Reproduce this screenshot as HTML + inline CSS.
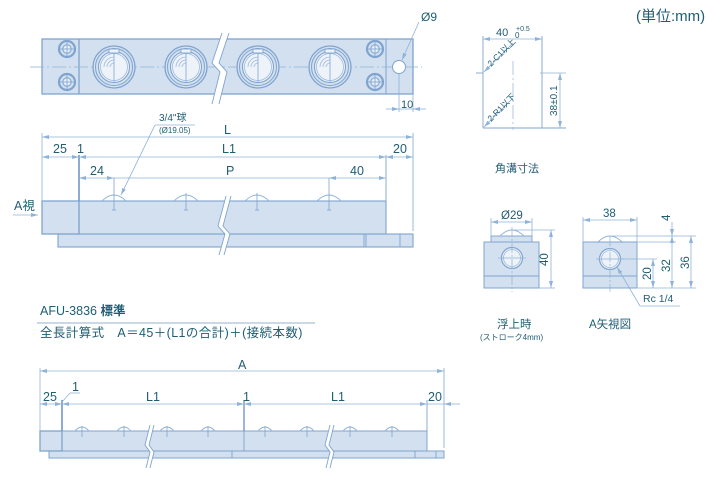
<!DOCTYPE html>
<html><head><meta charset="utf-8">
<style>
html,body{margin:0;padding:0;background:#fff;}
svg{display:block;}
text{font-family:"Liberation Sans","Noto Sans CJK JP",sans-serif;fill:#1f5d73;}
</style></head>
<body>
<svg width="728" height="498" viewBox="0 0 728 498" xmlns="http://www.w3.org/2000/svg">
<defs>
<marker id="a" markerWidth="8" markerHeight="6" refX="7" refY="3" orient="auto" markerUnits="userSpaceOnUse">
<path d="M0,1 L7,3 L0,5 z" fill="#8fb2d8"/></marker>
<marker id="b" markerWidth="8" markerHeight="6" refX="1" refY="3" orient="auto" markerUnits="userSpaceOnUse">
<path d="M8,1 L1,3 L8,5 z" fill="#8fb2d8"/></marker>
<g id="bolt"><circle r="8" fill="#d3e0ef" stroke="#7fa4cf" stroke-width="2.2"/><circle r="4.2" fill="#e6eef7" stroke="#7fa4cf" stroke-width="1"/><line x1="0" y1="-7" x2="0" y2="7" stroke="#7fa4cf" stroke-width="0.8"/><line x1="-7" y1="0" x2="7" y2="0" stroke="#7fa4cf" stroke-width="0.8"/></g>
<g id="unit"><circle r="21" fill="#d3e0ef" stroke="#7fa4cf" stroke-width="1.3"/><circle r="18.5" fill="none" stroke="#7fa4cf" stroke-width="1"/><circle r="15.5" fill="#eef3f9" stroke="#7fa4cf" stroke-width="1.1"/><circle r="13.5" fill="none" stroke="#9dbbdc" stroke-width="0.8"/><path d="M-10,0 A10,10 0 0 1 0,-10 M-7,0 A7,7 0 0 1 0,-7 M-4,0 A4,4 0 0 1 0,-4" fill="none" stroke="#9dbbdc" stroke-width="0.8"/><line x1="0" y1="-15" x2="0" y2="15" stroke="#7fa4cf" stroke-width="0.8"/><rect x="-5" y="-18" width="10" height="4" fill="#eef3f9" stroke="#7fa4cf" stroke-width="0.9"/></g>
<g id="ball"><path d="M-12,0 Q0,-12 12,0" fill="none" stroke="#8fb2d8" stroke-width="0.9"/><line x1="0" y1="-8" x2="0" y2="9" stroke="#7fa4cf" stroke-width="0.8"/><line x1="-2" y1="9" x2="2" y2="9" stroke="#7fa4cf" stroke-width="0.8"/></g>
<g id="sball"><path d="M-7,0 Q0,-8 7,0" fill="none" stroke="#8fb2d8" stroke-width="0.9"/><line x1="0" y1="-5" x2="0" y2="6" stroke="#7fa4cf" stroke-width="0.8"/></g>
</defs>

<!-- ===== PLAN VIEW ===== -->
<rect x="42" y="39" width="371" height="55" fill="#d3e0ef" stroke="#7fa4cf" stroke-width="1.3"/>
<line x1="79" y1="39" x2="79" y2="94" stroke="#7fa4cf" stroke-width="1.3"/>
<line x1="386" y1="39" x2="386" y2="94" stroke="#7fa4cf" stroke-width="1"/>
<line x1="30" y1="67" x2="422" y2="67" stroke="#8fb2d8" stroke-width="0.8" stroke-dasharray="14,3,2,3"/>
<use href="#bolt" x="67" y="49"/><use href="#bolt" x="67" y="82"/>
<use href="#bolt" x="375" y="49"/><use href="#bolt" x="375" y="82"/>
<use href="#unit" x="114" y="67"/><use href="#unit" x="186" y="67"/>
<use href="#unit" x="258" y="67"/><use href="#unit" x="330" y="67"/>
<path d="M222,33 L212,63 L220,72 L212,104 L219,104 L227,72 L219,63 L229,33 z" fill="#fff"/>
<path d="M222,33 L212,63 L220,72 L212,104 M229,33 L219,63 L227,72 L219,104" fill="none" stroke="#7fa4cf" stroke-width="0.9"/>
<circle cx="399" cy="67" r="6.5" fill="#fff" stroke="#7fa4cf" stroke-width="1"/>
<line x1="399" y1="73" x2="399" y2="112" stroke="#8fb2d8" stroke-width="0.8"/>
<line x1="413" y1="94" x2="413" y2="112" stroke="#8fb2d8" stroke-width="0.8"/>
<line x1="386" y1="109" x2="399" y2="109" stroke="#8fb2d8" stroke-width="0.8" marker-end="url(#a)"/>
<line x1="426" y1="109" x2="413" y2="109" stroke="#8fb2d8" stroke-width="0.8" marker-end="url(#a)"/>
<line x1="399" y1="109" x2="413" y2="109" stroke="#8fb2d8" stroke-width="0.8"/>
<text x="401" y="108" font-size="11">10</text>
<line x1="419" y1="22" x2="402" y2="60" stroke="#8fb2d8" stroke-width="0.8" marker-end="url(#a)"/>
<text x="421" y="21" font-size="12">Ø9</text>

<!-- ===== SIDE VIEW ===== -->
<rect x="58" y="234" width="355" height="13" fill="#d3e0ef" stroke="#7fa4cf" stroke-width="1.1"/>
<line x1="364" y1="234" x2="364" y2="247" stroke="#7fa4cf" stroke-width="0.9"/>
<line x1="366" y1="234" x2="366" y2="247" stroke="#7fa4cf" stroke-width="0.9"/>
<line x1="400" y1="234" x2="400" y2="247" stroke="#7fa4cf" stroke-width="0.9"/>
<rect x="79" y="201" width="307" height="33" fill="#d3e0ef" stroke="#7fa4cf" stroke-width="1.1"/>
<rect x="42" y="201" width="37" height="33" fill="#d3e0ef" stroke="#7fa4cf" stroke-width="1.3"/>
<use href="#ball" x="114" y="201"/><use href="#ball" x="186" y="201"/>
<use href="#ball" x="257" y="201"/><use href="#ball" x="329" y="201"/>
<path d="M226,196 L218,226 L225,234 L219,255 L224,255 L230,234 L223,226 L231,196 z" fill="#fff"/>
<path d="M226,196 L218,226 L225,234 L219,255 M231,196 L223,226 L230,234 L224,255" fill="none" stroke="#7fa4cf" stroke-width="0.9"/>
<line x1="42" y1="133" x2="42" y2="201" stroke="#8fb2d8" stroke-width="0.8"/>
<line x1="79" y1="155" x2="79" y2="201" stroke="#6f98c8" stroke-width="1.6"/>
<line x1="386" y1="155" x2="386" y2="201" stroke="#7fa4cf" stroke-width="0.9"/>
<line x1="413" y1="133" x2="413" y2="231" stroke="#8fb2d8" stroke-width="0.9"/>
<line x1="114" y1="178" x2="114" y2="193" stroke="#7fa4cf" stroke-width="0.8"/>
<line x1="329" y1="178" x2="329" y2="193" stroke="#7fa4cf" stroke-width="0.8"/>
<line x1="42" y1="137" x2="413" y2="137" stroke="#8fb2d8" stroke-width="0.8" marker-start="url(#b)" marker-end="url(#a)"/>
<text x="224" y="134" font-size="12.5">L</text>
<line x1="42" y1="157" x2="79" y2="157" stroke="#8fb2d8" stroke-width="0.8" marker-start="url(#b)" marker-end="url(#a)"/>
<line x1="79" y1="157" x2="386" y2="157" stroke="#8fb2d8" stroke-width="0.8" marker-start="url(#b)" marker-end="url(#a)"/>
<line x1="386" y1="157" x2="413" y2="157" stroke="#8fb2d8" stroke-width="0.8" marker-start="url(#b)" marker-end="url(#a)"/>
<text x="53" y="153" font-size="12.5">25</text>
<text x="77" y="153" font-size="12.5">1</text>
<text x="222" y="153" font-size="12.5">L1</text>
<text x="393" y="153" font-size="12.5">20</text>
<line x1="79" y1="178" x2="114" y2="178" stroke="#8fb2d8" stroke-width="0.8" marker-start="url(#b)" marker-end="url(#a)"/>
<line x1="114" y1="178" x2="329" y2="178" stroke="#8fb2d8" stroke-width="0.8"/>
<line x1="329" y1="178" x2="386" y2="178" stroke="#8fb2d8" stroke-width="0.8" marker-start="url(#b)" marker-end="url(#a)"/>
<text x="90" y="175" font-size="12.5">24</text>
<text x="226" y="175" font-size="12.5">P</text>
<text x="350" y="175" font-size="12.5">40</text>
<line x1="155" y1="125" x2="195" y2="125" stroke="#8fb2d8" stroke-width="0.8"/>
<line x1="155" y1="125" x2="121" y2="195" stroke="#8fb2d8" stroke-width="0.8" marker-end="url(#a)"/>
<text x="159" y="121" font-size="10">3/4"球</text>
<text x="159" y="133" font-size="8">(Ø19.05)</text>
<text x="14" y="210" font-size="12.5">A視</text>
<line x1="13" y1="215" x2="38" y2="215" stroke="#8fb2d8" stroke-width="0.8" marker-end="url(#a)"/>

<!-- ===== CORNER GROOVE ===== -->
<line x1="483" y1="39" x2="542" y2="39" stroke="#8fb2d8" stroke-width="0.8" marker-start="url(#b)" marker-end="url(#a)"/>
<text x="496" y="36" font-size="11">40</text>
<text x="516" y="31" font-size="7">+0.5</text>
<text x="515" y="38" font-size="8">0</text>
<line x1="483" y1="36" x2="483" y2="128" stroke="#7fa4cf" stroke-width="0.9"/>
<line x1="542" y1="36" x2="542" y2="128" stroke="#7fa4cf" stroke-width="0.9"/>
<line x1="476" y1="73" x2="483" y2="73" stroke="#7fa4cf" stroke-width="0.9"/>
<line x1="540" y1="73" x2="566" y2="73" stroke="#8fb2d8" stroke-width="0.8"/>
<line x1="483" y1="128" x2="566" y2="128" stroke="#7fa4cf" stroke-width="0.9"/>
<line x1="513" y1="61" x2="513" y2="130" stroke="#9dbbdc" stroke-width="0.8" stroke-dasharray="14,3,2,3"/>
<line x1="560" y1="73" x2="560" y2="128" stroke="#8fb2d8" stroke-width="0.8" marker-start="url(#b)" marker-end="url(#a)"/>
<text transform="translate(557,116) rotate(-90)" font-size="10">38±0.1</text>
<line x1="513" y1="43" x2="484" y2="72" stroke="#8fb2d8" stroke-width="0.8" marker-end="url(#a)"/>
<line x1="513" y1="98" x2="484" y2="127" stroke="#8fb2d8" stroke-width="0.8" marker-end="url(#a)"/>
<text transform="translate(491,67) rotate(-45)" font-size="8.5">2-C1以上</text>
<text transform="translate(491,122) rotate(-45)" font-size="8.5">2-R1以下</text>
<text x="495" y="172" font-size="11">角溝寸法</text>

<text x="636" y="21" font-size="15">(単位:mm)</text>

<!-- ===== FLOAT VIEW ===== -->
<rect x="491" y="236" width="41" height="6" fill="#d3e0ef" stroke="#7fa4cf" stroke-width="0.9"/>
<path d="M500,236 Q512,224 524,236" fill="none" stroke="#8fb2d8" stroke-width="0.9"/>
<rect x="484" y="242" width="55" height="46" fill="#d3e0ef" stroke="#7fa4cf" stroke-width="1"/>
<line x1="484" y1="276" x2="539" y2="276" stroke="#7fa4cf" stroke-width="1"/>
<circle cx="512" cy="258" r="10.5" fill="#eef3f9" stroke="#7fa4cf" stroke-width="1.2"/>
<circle cx="512" cy="258" r="8.5" fill="none" stroke="#9dbbdc" stroke-width="0.8"/>
<line x1="512" y1="227" x2="512" y2="292" stroke="#8fb2d8" stroke-width="0.7" stroke-dasharray="10,2,2,2"/>
<line x1="498" y1="258" x2="526" y2="258" stroke="#8fb2d8" stroke-width="0.7"/>
<line x1="491" y1="218" x2="491" y2="236" stroke="#8fb2d8" stroke-width="0.8"/>
<line x1="532" y1="218" x2="532" y2="236" stroke="#8fb2d8" stroke-width="0.8"/>
<line x1="491" y1="222" x2="532" y2="222" stroke="#8fb2d8" stroke-width="0.8" marker-start="url(#b)" marker-end="url(#a)"/>
<text x="501" y="219" font-size="11.5">Ø29</text>
<line x1="514" y1="230" x2="555" y2="230" stroke="#8fb2d8" stroke-width="0.8"/>
<line x1="539" y1="288" x2="555" y2="288" stroke="#8fb2d8" stroke-width="0.8"/>
<line x1="551" y1="230" x2="551" y2="288" stroke="#8fb2d8" stroke-width="0.8" marker-start="url(#b)" marker-end="url(#a)"/>
<text transform="translate(548,266) rotate(-90)" font-size="11.5">40</text>
<text x="497" y="328" font-size="11.5">浮上時</text>
<text x="480" y="340" font-size="8">(ストローク4mm)</text>

<!-- ===== A VIEW ===== -->
<path d="M598,242 Q610,230 622,242" fill="none" stroke="#8fb2d8" stroke-width="0.9"/>
<rect x="583" y="242" width="54" height="46" fill="#d3e0ef" stroke="#7fa4cf" stroke-width="1"/>
<line x1="583" y1="276" x2="637" y2="276" stroke="#7fa4cf" stroke-width="1"/>
<circle cx="610" cy="259" r="10.5" fill="#eef3f9" stroke="#7fa4cf" stroke-width="1.2"/>
<circle cx="610" cy="259" r="8.5" fill="none" stroke="#9dbbdc" stroke-width="0.8"/>
<line x1="610" y1="236" x2="610" y2="292" stroke="#8fb2d8" stroke-width="0.7" stroke-dasharray="10,2,2,2"/>
<line x1="596" y1="259" x2="624" y2="259" stroke="#8fb2d8" stroke-width="0.7"/>
<line x1="583" y1="217" x2="583" y2="242" stroke="#8fb2d8" stroke-width="0.8"/>
<line x1="637" y1="217" x2="637" y2="242" stroke="#8fb2d8" stroke-width="0.8"/>
<line x1="583" y1="220" x2="637" y2="220" stroke="#8fb2d8" stroke-width="0.8" marker-start="url(#b)" marker-end="url(#a)"/>
<text x="603" y="217" font-size="11.5">38</text>
<line x1="612" y1="236" x2="696" y2="236" stroke="#8fb2d8" stroke-width="0.8"/>
<line x1="637" y1="242" x2="676" y2="242" stroke="#8fb2d8" stroke-width="0.8"/>
<line x1="622" y1="259" x2="657" y2="259" stroke="#8fb2d8" stroke-width="0.8"/>
<line x1="637" y1="288" x2="696" y2="288" stroke="#8fb2d8" stroke-width="0.8"/>
<line x1="672" y1="222" x2="672" y2="236" stroke="#8fb2d8" stroke-width="0.8" marker-end="url(#a)"/>
<line x1="672" y1="236" x2="672" y2="288" stroke="#8fb2d8" stroke-width="0.8" marker-start="url(#b)" marker-end="url(#a)"/>
<text transform="translate(670,221) rotate(-90)" font-size="11.5">4</text>
<line x1="653" y1="259" x2="653" y2="288" stroke="#8fb2d8" stroke-width="0.8" marker-start="url(#b)" marker-end="url(#a)"/>
<text transform="translate(651,280) rotate(-90)" font-size="11.5">20</text>
<text transform="translate(670,272) rotate(-90)" font-size="11.5">32</text>
<line x1="691" y1="236" x2="691" y2="288" stroke="#8fb2d8" stroke-width="0.8" marker-start="url(#b)" marker-end="url(#a)"/>
<text transform="translate(689,269) rotate(-90)" font-size="11.5">36</text>
<line x1="640" y1="306" x2="617" y2="267" stroke="#8fb2d8" stroke-width="0.8" marker-end="url(#a)"/>
<line x1="640" y1="306" x2="680" y2="306" stroke="#8fb2d8" stroke-width="0.8"/>
<text x="643" y="302" font-size="10.5">Rc 1/4</text>
<text x="589" y="328" font-size="11.5">A矢視図</text>

<!-- ===== FORMULA ===== -->
<text x="40" y="315" font-size="12.5">AFU-3836 <tspan font-weight="bold">標準</tspan></text>
<line x1="37" y1="323" x2="315" y2="323" stroke="#b9cbe0" stroke-width="1.5"/>
<text x="40" y="337" font-size="12.5" letter-spacing="0.4">全長計算式　A＝45＋(L1の合計)＋(接続本数)</text>

<!-- ===== BOTTOM VIEW ===== -->
<rect x="49" y="451" width="395" height="7" fill="#d3e0ef" stroke="#7fa4cf" stroke-width="1"/>
<line x1="232" y1="451" x2="232" y2="458" stroke="#7fa4cf" stroke-width="0.9"/>
<line x1="415" y1="451" x2="415" y2="458" stroke="#7fa4cf" stroke-width="0.9"/>
<line x1="436" y1="451" x2="436" y2="458" stroke="#7fa4cf" stroke-width="0.9"/>
<rect x="62" y="431" width="365" height="20" fill="#d3e0ef" stroke="#7fa4cf" stroke-width="1"/>
<rect x="40" y="431" width="22" height="20" fill="#d3e0ef" stroke="#7fa4cf" stroke-width="1.3"/>
<line x1="244" y1="431" x2="244" y2="451" stroke="#7fa4cf" stroke-width="0.9"/>
<use href="#sball" x="82" y="431"/><use href="#sball" x="124" y="431"/>
<use href="#sball" x="167" y="431"/><use href="#sball" x="208" y="431"/>
<use href="#sball" x="265" y="431"/><use href="#sball" x="307" y="431"/>
<use href="#sball" x="350" y="431"/><use href="#sball" x="392" y="431"/>
<path d="M150,425 L145,445 L150,452 L146,468 L150,468 L154,452 L149,445 L154,425 z" fill="#fff"/>
<path d="M150,425 L145,445 L150,452 L146,468 M154,425 L149,445 L154,452 L150,468" fill="none" stroke="#7fa4cf" stroke-width="0.9"/>
<path d="M330,425 L325,445 L330,452 L326,468 L330,468 L334,452 L329,445 L334,425 z" fill="#fff"/>
<path d="M330,425 L325,445 L330,452 L326,468 M334,425 L329,445 L334,452 L330,468" fill="none" stroke="#7fa4cf" stroke-width="0.9"/>
<line x1="40" y1="368" x2="40" y2="431" stroke="#8fb2d8" stroke-width="0.8"/>
<line x1="62" y1="400" x2="62" y2="431" stroke="#6f98c8" stroke-width="1.6"/>
<line x1="244" y1="400" x2="244" y2="431" stroke="#6f98c8" stroke-width="1.4"/>
<line x1="427" y1="400" x2="427" y2="431" stroke="#7fa4cf" stroke-width="0.9"/>
<line x1="444" y1="368" x2="444" y2="448" stroke="#8fb2d8" stroke-width="0.9"/>
<line x1="40" y1="371" x2="444" y2="371" stroke="#8fb2d8" stroke-width="0.8" marker-start="url(#b)" marker-end="url(#a)"/>
<text x="238" y="369" font-size="12.5">A</text>
<line x1="40" y1="404" x2="62" y2="404" stroke="#8fb2d8" stroke-width="0.8" marker-start="url(#b)" marker-end="url(#a)"/>
<line x1="62" y1="404" x2="244" y2="404" stroke="#8fb2d8" stroke-width="0.8" marker-start="url(#b)" marker-end="url(#a)"/>
<line x1="244" y1="404" x2="427" y2="404" stroke="#8fb2d8" stroke-width="0.8" marker-start="url(#b)" marker-end="url(#a)"/>
<line x1="427" y1="404" x2="444" y2="404" stroke="#8fb2d8" stroke-width="0.8"/>
<line x1="460" y1="404" x2="444" y2="404" stroke="#8fb2d8" stroke-width="0.8" marker-end="url(#a)"/>
<line x1="62" y1="402" x2="70" y2="393" stroke="#8fb2d8" stroke-width="0.8"/>
<line x1="70" y1="393" x2="80" y2="393" stroke="#8fb2d8" stroke-width="0.8"/>
<text x="72" y="391" font-size="12.5">1</text>
<text x="43" y="401" font-size="12.5">25</text>
<text x="146" y="401" font-size="12.5">L1</text>
<text x="243" y="401" font-size="12.5">1</text>
<text x="331" y="401" font-size="12.5">L1</text>
<text x="428" y="401" font-size="12.5">20</text>
</svg>
</body></html>
